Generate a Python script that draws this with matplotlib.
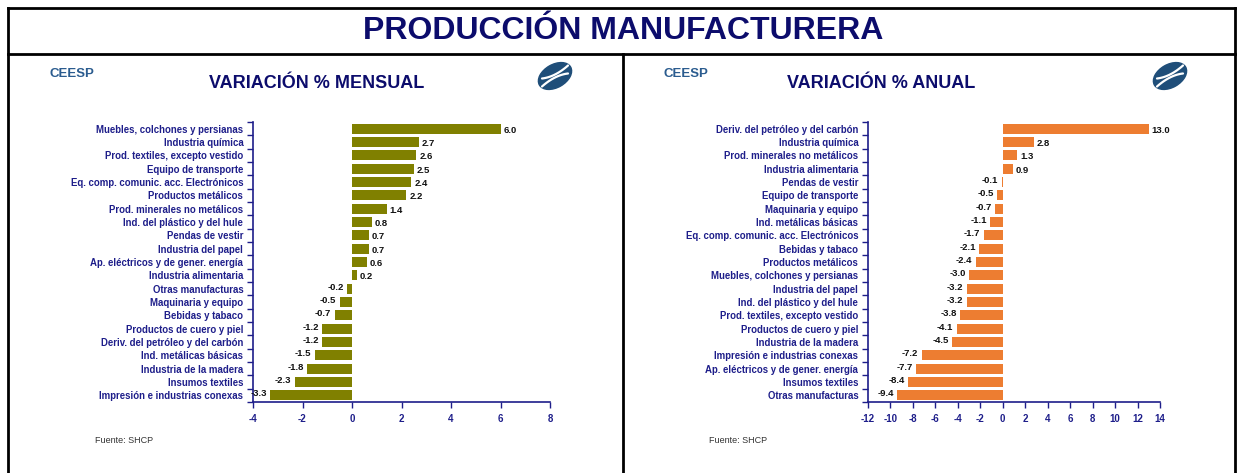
import matplotlib
matplotlib.use("Agg")
import matplotlib.pyplot as plt
from matplotlib.lines import Line2D
from matplotlib.patches import Ellipse
import numpy as np

plt.rcParams['font.family'] = ['Liberation Sans', 'DejaVu Sans']

# ---------------- data ----------------
cats_mensual = [
    "Muebles, colchones y persianas", "Industria química", "Prod. textiles, excepto vestido",
    "Equipo de transporte", "Eq. comp. comunic. acc. Electrónicos", "Productos metálicos",
    "Prod. minerales no metálicos", "Ind. del plástico y del hule", "Pendas de vestir",
    "Industria del papel", "Ap. eléctricos y de gener. energía", "Industria alimentaria",
    "Otras manufacturas", "Maquinaria y equipo", "Bebidas y tabaco",
    "Productos de cuero y piel", "Deriv. del petróleo y del carbón", "Ind. metálicas básicas",
    "Industria de la madera", "Insumos textiles", "Impresión e industrias conexas",
]
vals_mensual = [6.0, 2.7, 2.6, 2.5, 2.4, 2.2, 1.4, 0.8, 0.7, 0.7, 0.6, 0.2,
                -0.2, -0.5, -0.7, -1.2, -1.2, -1.5, -1.8, -2.3, -3.3]

cats_anual = [
    "Deriv. del petróleo y del carbón", "Industria química", "Prod. minerales no metálicos",
    "Industria alimentaria", "Pendas de vestir", "Equipo de transporte",
    "Maquinaria y equipo", "Ind. metálicas básicas", "Eq. comp. comunic. acc. Electrónicos",
    "Bebidas y tabaco", "Productos metálicos", "Muebles, colchones y persianas",
    "Industria del papel", "Ind. del plástico y del hule", "Prod. textiles, excepto vestido",
    "Productos de cuero y piel", "Industria de la madera", "Impresión e industrias conexas",
    "Ap. eléctricos y de gener. energía", "Insumos textiles", "Otras manufacturas",
]
vals_anual = [13.0, 2.8, 1.3, 0.9, -0.1, -0.5, -0.7, -1.1, -1.7, -2.1, -2.4, -3.0,
              -3.2, -3.2, -3.8, -4.1, -4.5, -7.2, -7.7, -8.4, -9.4]

xticks_mensual = [-4, -2, 0, 2, 4, 6, 8]
xticks_anual = [-12, -10, -8, -6, -4, -2, 0, 2, 4, 6, 8, 10, 12, 14]

main_title = "PRODUCCIÓN MANUFACTURERA"
sub_mensual = "VARIACIÓN % MENSUAL"
sub_anual = "VARIACIÓN % ANUAL"
source = "Fuente: SHCP"
brand = "CEESP"

# ---------------- style ----------------
W, H = 1241, 473
NAVY = "#1e1e8a"
TITLE = "#0c0c6c"
BRAND = "#2b5c8f"
LOGO = "#1f4e79"

fig = plt.figure(figsize=(W / 100, H / 100), dpi=100)
fig.patch.set_facecolor("white")

def fx(px):
    return px / W

def fy(py):
    return 1 - py / H

# frame lines
lw = 2.0
fig.add_artist(Line2D([fx(8), fx(1235)], [fy(8), fy(8)], color="black", lw=lw))
fig.add_artist(Line2D([fx(8), fx(1235)], [fy(54), fy(54)], color="black", lw=lw))
fig.add_artist(Line2D([fx(8), fx(8)], [fy(8), 0], color="black", lw=lw))
fig.add_artist(Line2D([fx(1235), fx(1235)], [fy(8), 0], color="black", lw=lw))
fig.add_artist(Line2D([fx(623), fx(623)], [fy(54), 0], color="black", lw=lw))

fig.text(fx(623), fy(39), main_title, ha="center", va="baseline",
         fontsize=23, fontweight="bold", color=TITLE)


def logo(cx, cy):
    lax = fig.add_axes([fx(cx - 22), fy(cy + 16), fx(44), 32 / H])
    lax.set_xlim(-22, 22)
    lax.set_ylim(-16, 16)
    lax.set_aspect("equal")
    lax.axis("off")
    lax.add_patch(Ellipse((0, 0), 36, 23, angle=30, color=LOGO))
    t = np.linspace(-1, 1, 50)
    for off in (-4, 4):
        x = t * 13
        y = off + 0.5 * x - 2.5 * np.sign(off) * (1 - t ** 2)
        lax.plot(x, y, color="white", lw=1.6, solid_capstyle="round")


def panel(ax_rect, cats, vals, xticks, color, sub, sub_x, brand_x, logo_x, src_x):
    ax = fig.add_axes(ax_rect)
    n = len(cats)
    y = np.arange(n)
    ax.barh(y, vals, height=0.74, color=color, zorder=2)
    ax.set_ylim(n - 0.5, -0.5)
    ax.set_xlim(xticks[0], xticks[-1])
    ax.set_xticks(xticks)
    ax.set_xticklabels([str(t) for t in xticks], fontsize=7, fontweight="bold", color=NAVY)
    ax.set_yticks(y)
    ax.set_yticklabels(cats, fontsize=6.9, fontweight="bold", color=NAVY)
    ax.set_yticks(np.arange(n + 1) - 0.5, minor=True)
    ax.tick_params(axis="y", which="major", length=0, pad=7)
    ax.tick_params(axis="y", which="minor", length=4, color=NAVY, width=1)
    ax.tick_params(axis="x", length=4, color=NAVY, width=1, pad=5)
    for s in ("top", "right"):
        ax.spines[s].set_visible(False)
    for s in ("left", "bottom"):
        ax.spines[s].set_color(NAVY)
        ax.spines[s].set_linewidth(1.2)
    for yi, v in zip(y, vals):
        if v >= 0:
            ax.annotate(f"{v:.1f}", (v, yi), xytext=(2, -1), textcoords="offset points",
                        ha="left", va="center", fontsize=6.8, fontweight="bold", color="#111111")
        else:
            ax.annotate(f"{v:.1f}", (v, yi), xytext=(-2.5, 1), textcoords="offset points",
                        ha="right", va="center", fontsize=6.8, fontweight="bold", color="#111111")
    fig.text(fx(sub_x), fy(84), sub, ha="center", va="center", fontsize=13,
             fontweight="bold", color=TITLE)
    fig.text(fx(brand_x), fy(74), brand, ha="left", va="center", fontsize=9.5,
             fontweight="bold", color=BRAND)
    fig.text(fx(src_x), fy(440), source, ha="left", va="center", fontsize=6.5, color="#333333")
    logo(logo_x, 76)
    return ax


top_px, bot_px = 122, 402
panel([fx(253), fy(bot_px), fx(550 - 253), (bot_px - top_px) / H],
      cats_mensual, vals_mensual, xticks_mensual, "#808000",
      sub_mensual, 317, 50, 555, 95)
panel([fx(868), fy(bot_px), fx(1160 - 868), (bot_px - top_px) / H],
      cats_anual, vals_anual, xticks_anual, "#ED7D31",
      sub_anual, 881, 664, 1170, 709)

fig.savefig("out.png", dpi=100)
